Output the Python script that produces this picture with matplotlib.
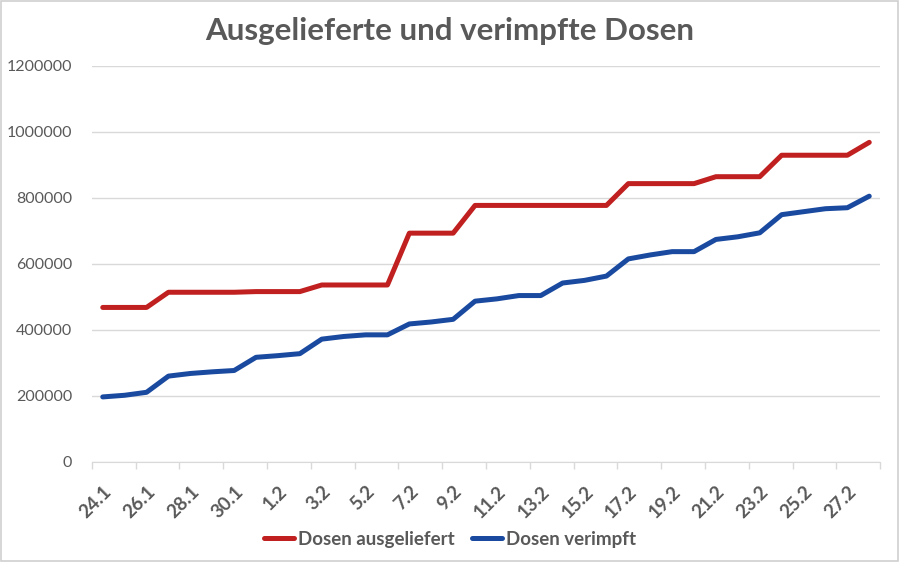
import matplotlib
matplotlib.use('Agg')
import matplotlib.pyplot as plt
from matplotlib.patches import Rectangle
from matplotlib.ticker import MultipleLocator, FixedLocator

# Daten: 24.1. bis 28.2.
dates = ['24.1', '25.1', '26.1', '27.1', '28.1', '29.1', '30.1', '31.1',
         '1.2', '2.2', '3.2', '4.2', '5.2', '6.2', '7.2', '8.2', '9.2', '10.2',
         '11.2', '12.2', '13.2', '14.2', '15.2', '16.2', '17.2', '18.2', '19.2',
         '20.2', '21.2', '22.2', '23.2', '24.2', '25.2', '26.2', '27.2', '28.2']

ausgeliefert = [468000, 468000, 468000, 514000, 514000, 514000, 514000, 516000,
                516000, 516000, 536000, 536000, 536000, 536000, 693000, 693000,
                693000, 777000, 777000, 777000, 777000, 777000, 777000, 777000,
                843000, 843000, 843000, 843000, 864000, 864000, 864000, 929000,
                929000, 929000, 929000, 968000]

verimpft = [197000, 202000, 211000, 260000, 268000, 273000, 277000, 317000,
            322000, 328000, 372000, 380000, 385000, 385000, 418000, 424000,
            432000, 487000, 494000, 504000, 504000, 542000, 550000, 563000,
            615000, 627000, 637000, 637000, 674000, 682000, 694000, 749000,
            758000, 767000, 770000, 805000]

grau = '#595959'
plt.rcParams['font.family'] = ['Lato', 'DejaVu Sans']

fig = plt.figure(figsize=(9, 5.62), dpi=100)
ax = fig.add_axes([0.102, 0.178, 0.876, 0.705])

x = range(len(dates))
ax.plot(x, ausgeliefert, color='#C0201F', lw=3.6, solid_capstyle='round',
        solid_joinstyle='round', label='Dosen ausgeliefert')
ax.plot(x, verimpft, color='#1A4AA0', lw=3.6, solid_capstyle='round',
        solid_joinstyle='round', label='Dosen verimpft')

ax.set_xlim(-0.5, len(dates) - 0.5)
ax.set_ylim(0, 1200000)
ax.yaxis.set_major_locator(MultipleLocator(200000))
ax.yaxis.set_major_formatter(matplotlib.ticker.FuncFormatter(lambda v, p: f'{int(v)}'))

# Achsenbeschriftung jeden zweiten Tag
ax.set_xticks(list(x)[::2])
ax.set_xticklabels(dates[::2], rotation=45, ha='right', rotation_mode='anchor',
                   fontsize=13.5, fontweight='bold', color=grau)
ax.xaxis.set_minor_locator(FixedLocator([i - 0.5 for i in range(0, len(dates) + 1, 2)]))
ax.tick_params(axis='x', which='major', length=0, pad=15)
ax.tick_params(axis='x', which='minor', length=5, color='#d9d9d9', width=1)
ax.tick_params(axis='y', length=0, pad=14, labelsize=11.5, labelcolor=grau)

ax.grid(axis='y', color='#d9d9d9', lw=1)
ax.set_axisbelow(True)
for s in ['top', 'right', 'left']:
    ax.spines[s].set_visible(False)
ax.spines['bottom'].set_color('#d9d9d9')

fig.suptitle('Ausgelieferte und verimpfte Dosen', y=0.97, fontsize=22.5,
             fontweight='bold', color=grau)

leg = fig.legend(loc='center', bbox_to_anchor=(0.5, 0.04), ncol=2, frameon=False,
                 handlelength=1.6, handletextpad=0.2, columnspacing=0.9,
                 prop={'size': 13.5, 'weight': 'bold'})
for t in leg.get_texts():
    t.set_color(grau)

# Rahmen um das Diagramm
fig.patches.append(Rectangle((0.001, 0.002), 0.997, 0.996, transform=fig.transFigure,
                             fill=False, edgecolor='#d0d0d0', lw=1.2))

fig.savefig('out.png', dpi=100, facecolor='white')
